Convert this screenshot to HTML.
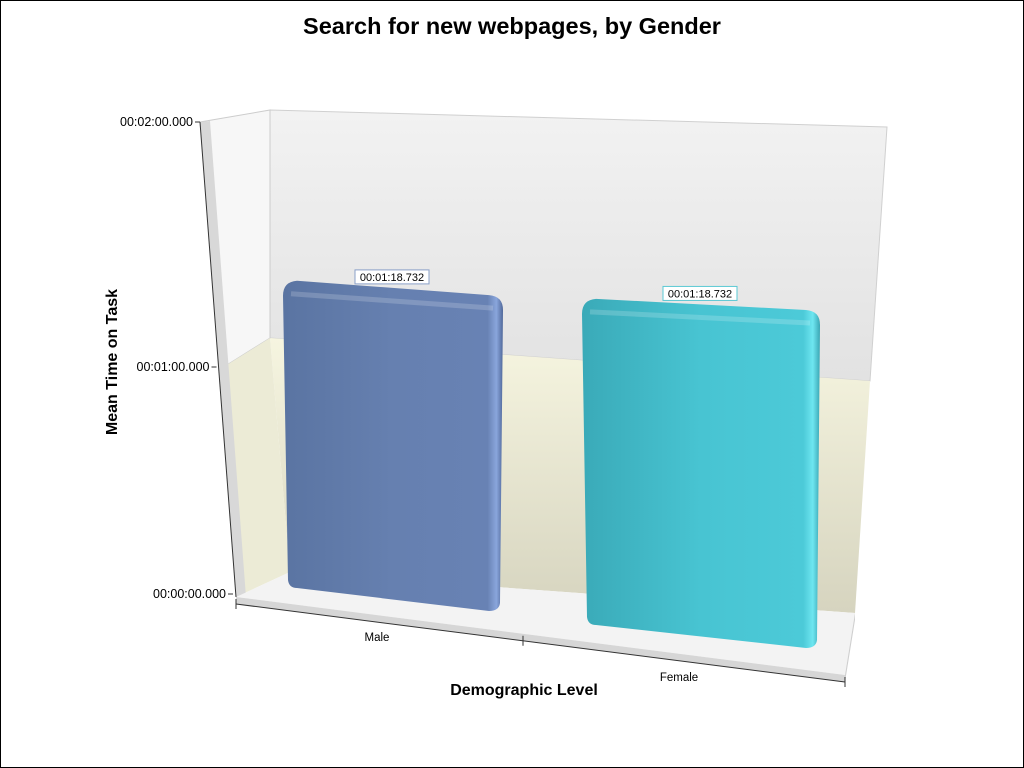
<!DOCTYPE html>
<html><head><meta charset="utf-8"><style>
body{margin:0;background:#fff}
svg{display:block;font-family:"Liberation Sans",sans-serif}
</style></head><body>
<svg width="1024" height="768" viewBox="0 0 1024 768">
<defs>
<linearGradient id="gBlue" x1="0" x2="1" y1="0" y2="0"><stop offset="0" stop-color="#5a74a2"/><stop offset="0.5" stop-color="#6680b0"/><stop offset="0.93" stop-color="#6882b4"/><stop offset="0.97" stop-color="#8aa6dc"/><stop offset="1" stop-color="#50689a"/></linearGradient>
<linearGradient id="gCyan" x1="0" x2="1" y1="0" y2="0"><stop offset="0" stop-color="#3aaab8"/><stop offset="0.5" stop-color="#48c4d2"/><stop offset="0.93" stop-color="#4ccad8"/><stop offset="0.97" stop-color="#6ee6f0"/><stop offset="1" stop-color="#3aa6b4"/></linearGradient>
<linearGradient id="gBack" x1="0" x2="0" y1="0" y2="1"><stop offset="0" stop-color="#f2f2f2"/><stop offset="1" stop-color="#e2e2e2"/></linearGradient>
<linearGradient id="gBeige" x1="0" x2="0" y1="0" y2="1"><stop offset="0" stop-color="#f6f5e0"/><stop offset="1" stop-color="#d6d4bf"/></linearGradient>
</defs>
<rect x="0.5" y="0.5" width="1023" height="767" fill="#fff" stroke="#000"/>
<text x="512" y="34" text-anchor="middle" font-size="23.5" font-weight="bold">Search for new webpages, by Gender</text>
<polygon points="270,110 887,127 870,381 270,338" fill="url(#gBack)" stroke="#d0d0d0"/>
<polygon points="270,338 870,381 855,613 290,572" fill="url(#gBeige)"/>
<polygon points="200,122 270,110 270,338 222,368" fill="#f7f7f7" stroke="#ccc"/>
<polygon points="222,368 270,338 290,572 236,597" fill="#ecebd6"/>
<polygon points="200,122 210,121 246,597 236,597" fill="#d8d8d8"/>
<polygon points="236,597 290,572 855,613 845,675" fill="#f3f3f3"/>
<polygon points="236,597 845,675 845,682 236,604" fill="#d6d6d6"/>
<polygon points="845,675 855,613 855,620 845,682" fill="#cfcfcf"/>
<line x1="200" y1="122" x2="236" y2="597" stroke="#333"/>
<line x1="236" y1="604" x2="845" y2="682" stroke="#333"/>
<g id="ticks"></g>
<g id="bars"></g>
<text transform="translate(117,362) rotate(-90)" text-anchor="middle" font-size="16" font-weight="bold">Mean Time on Task</text>
<text x="524" y="695" text-anchor="middle" font-size="16" font-weight="bold">Demographic Level</text>
</svg>
<script>
const categories = ["Male", "Female"];
const values = [78.732, 78.732];
const valueLabels = ["00:01:18.732", "00:01:18.732"];
const yTickValues = [0, 60, 120];
const yTickLabels = ["00:00:00.000", "00:01:00.000", "00:02:00.000"];

const NS = "http://www.w3.org/2000/svg";
function mk(tag, attrs, parent){const e=document.createElementNS(NS,tag);for(const k in attrs)e.setAttribute(k,attrs[k]);parent.appendChild(e);return e;}
function yAxisPt(v){const t=v/120;return [233-33*t, 594-436*t-36*t*t];}
const catGeom=[{x0:283,x1:503,bl:588,br:611,kL:3.89,kR:4.0,fill:"url(#gBlue)"},{x0:582,x1:820,bl:625,br:648,kL:4.13,kR:4.28,fill:"url(#gCyan)"}];
function barTop(i,v){const g=catGeom[i];return [g.bl-v*g.kL, g.br-v*g.kR];}
const tg=document.getElementById('ticks');
yTickValues.forEach((v,i)=>{
  const [x,y]=yAxisPt(v);
  const l=mk('line',{x1:x-5,y1:y,x2:x,y2:y,stroke:'#333'},tg);
  
  
  const t=mk('text',{x:x-7,y:y+4,'text-anchor':'end','font-size':12.5},tg);
  t.textContent=yTickLabels[i];
  
  
});
[236,523,845].forEach(x=>{
  const y=604+(x-236)*78/609;
  const l=mk('line',{x1:x,y1:y-5,x2:x,y2:y+5,stroke:'#333'},tg);
  
  
});
const labelPos=[[377,641],[679,681]];
categories.forEach((c,i)=>{
  const t=mk('text',{x:labelPos[i][0],y:labelPos[i][1],'text-anchor':'middle','font-size':11.5},tg);
  t.textContent=c;
  
  
});
const bg=document.getElementById('bars');
values.forEach((v,i)=>{
  const g=catGeom[i];const [tl,tr]=barTop(i,v);const r=14;
  const d=`M${g.x0},${tl+r} Q${g.x0},${tl} ${g.x0+r},${tl-1} L${g.x1-r},${tr-1} Q${g.x1},${tr} ${g.x1},${tr+r} L${g.x1-3},${g.br-8} Q${g.x1-4},${g.br} ${g.x1-14},${g.br} L${g.x0+14},${g.bl} Q${g.x0+6},${g.bl} ${g.x0+5},${g.bl-8} Z`;
  const p=mk('path',{d:d,fill:g.fill},bg);
  
  
  const hl=mk('path',{d:`M${g.x0+8},${tl+12} L${g.x1-10},${tr+12}`,stroke:'rgba(255,255,255,0.18)','stroke-width':5,fill:'none'},bg);
  
  
  const cx=(g.x0+g.x1)/2-1;const cy=(tl+tr)/2-12;
  const lc=i==0?'#8aa0c8':'#5ac8d4';
  const b=mk('rect',{x:cx-37,y:cy-7,width:74,height:14,fill:'#fff',stroke:lc},bg);
  
  
  const t=mk('text',{x:cx,y:cy+4,'text-anchor':'middle','font-size':11},bg);
  t.textContent=valueLabels[i];
  
  
});
</script>
</body></html>
